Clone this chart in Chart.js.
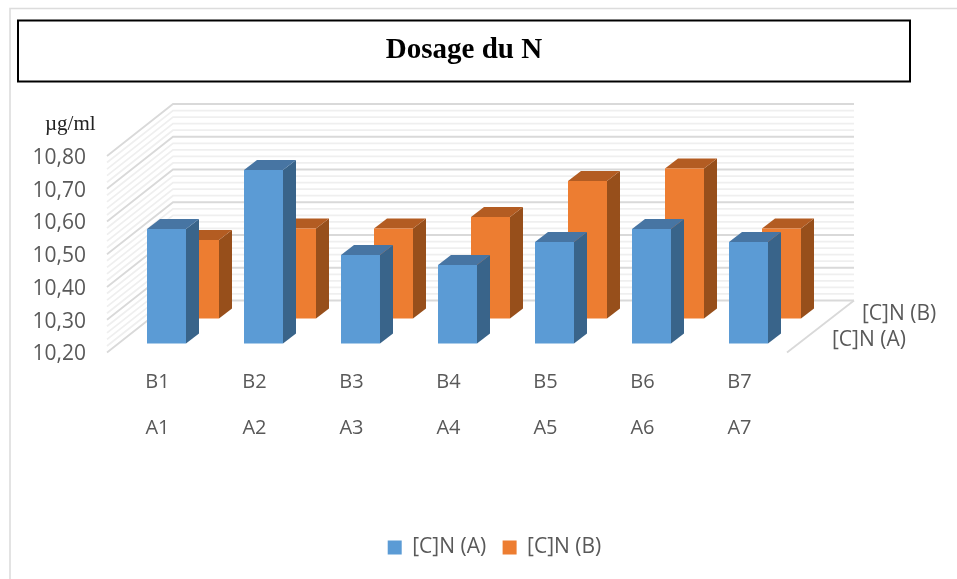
<!DOCTYPE html>
<html><head><meta charset="utf-8">
<style>html,body{margin:0;padding:0;background:#fff}canvas{display:block}</style>
<script src="https://cdn.jsdelivr.net/npm/chart.js@4"></script>
</head><body><canvas id="c" width="957" height="579"></canvas>
<script>
const chartTitle = 'Dosage du N';
const unitLabel = 'µg/ml';
const categoriesA = ['A1','A2','A3','A4','A5','A6','A7'];
const categoriesB = ['B1','B2','B3','B4','B5','B6','B7'];
const seriesAName = '[C]N (A)';
const seriesBName = '[C]N (B)';
const seriesA = [10.55,10.73,10.47,10.44,10.51,10.55,10.51];
const seriesB = [10.44,10.475,10.475,10.51,10.62,10.658,10.475];
const yMin = 10.2, yMax = 10.8, yStep = 0.1, minorStep = 0.02;

const GREY = '#595959';
const SANS = '"Open Sans", sans-serif';
const SERIF = '"Liberation Serif", serif';
const depthOffset = [{dx:0,dy:0},{dx:33,dy:-25}];
const barDepth = {dx:13,dy:-10};
const faces = [{top:'#4775a3',side:'#39648a'},{top:'#b35c22',side:'#974f1b'}];

const scene3d = {
  id:'scene3d',
  afterLayout(chart){
    chart.titleBlock.left = 18; chart.titleBlock.right = 910;
    const lg = chart.legend;
    lg.left += 96; lg.right += 96;
    lg.legendHitBoxes.forEach(b=>{b.left+=96;});
  },
  beforeDatasetsDraw(chart){
    const {ctx,chartArea:a,scales:{y}} = chart;
    const fl=a.left-11, fr=a.right-10, bl=a.left+55, br=a.right+57;
    const n=Math.round((yMax-yMin)/minorStep);
    ctx.save();
    for(let pass=0;pass<2;pass++){
      for(let i=0;i<=n;i++){
        const major=i%5===0;
        if(major!==(pass===1)) continue;
        const p=y.getPixelForValue(yMin+i*minorStep);
        ctx.strokeStyle=major?'#d9d9d9':'#efefef';
        ctx.lineWidth=1.8;
        ctx.beginPath();
        ctx.moveTo(fl,p+9); ctx.lineTo(bl,p-43); ctx.lineTo(br,p-43);
        ctx.stroke();
      }
    }
    const p0=y.getPixelForValue(yMin);
    ctx.strokeStyle='#d9d9d9'; ctx.lineWidth=1.8;
    ctx.beginPath(); ctx.moveTo(br,p0-43); ctx.lineTo(fr,p0+9); ctx.stroke();
    ctx.restore();
  },
  beforeDatasetDraw(chart,args){
    const {ctx}=chart, i=args.index, off=depthOffset[i], f=faces[i];
    ctx.save();
    ctx.translate(off.dx,off.dy);
    args.meta.data.forEach(el=>{
      const {x,y,base,width}=el.getProps(['x','y','base','width'],true);
      const l=x-width/2, r=x+width/2, d=barDepth;
      ctx.fillStyle=f.side;
      ctx.beginPath();
      ctx.moveTo(r,y); ctx.lineTo(r+d.dx,y+d.dy); ctx.lineTo(r+d.dx,base+d.dy); ctx.lineTo(r,base);
      ctx.closePath(); ctx.fill();
      ctx.fillStyle=f.top;
      ctx.beginPath();
      ctx.moveTo(l,y); ctx.lineTo(l+d.dx,y+d.dy); ctx.lineTo(r+d.dx,y+d.dy); ctx.lineTo(r,y);
      ctx.closePath(); ctx.fill();
    });
  },
  afterDatasetDraw(chart){ chart.ctx.restore(); },
  afterDraw(chart){
    const {ctx}=chart;
    ctx.save();
    ctx.strokeStyle='#dcdcdc'; ctx.lineWidth=1.6;
    ctx.beginPath(); ctx.moveTo(10,579); ctx.lineTo(10,8.5); ctx.lineTo(957,8.5); ctx.stroke();
    ctx.strokeStyle='#000'; ctx.lineWidth=2;
    ctx.strokeRect(18,20.5,892,61);
    ctx.textBaseline='middle'; ctx.textAlign='left';
    ctx.fillStyle='#222'; ctx.font='21px '+SERIF;
    ctx.fillText(unitLabel,45,124);
    ctx.fillStyle=GREY; ctx.font='21px '+SANS;
    ctx.fillText(seriesBName,862,314.5);
    ctx.fillText(seriesAName,832,340);
    ctx.restore();
  }
};

new Chart(document.getElementById('c'),{
  type:'bar',
  data:{
    labels:categoriesB.map((b,i)=>[b,categoriesA[i]]),
    datasets:[
      {label:seriesAName,data:seriesA,backgroundColor:'#5b9bd5',clip:false,base:yMin},
      {label:seriesBName,data:seriesB,backgroundColor:'#ed7d31',clip:false,base:yMin}
    ]
  },
  options:{
    responsive:false,animation:false,
    layout:{padding:{left:0,right:160,top:0,bottom:11}},
    datasets:{bar:{grouped:false,categoryPercentage:1,barPercentage:0.402}},
    scales:{
      x:{
        grid:{display:false},border:{display:false},
        afterFit(s){s.height=177;},
        ticks:{autoSkip:false,maxRotation:0,minRotation:0,padding:8,labelOffset:-9,color:GREY,
               font:{family:SANS,size:20,lineHeight:'46px'}}
      },
      y:{
        min:yMin,max:yMax,
        grid:{display:false,drawTicks:false},border:{display:false},
        afterFit(s){s.width=118;},
        ticks:{stepSize:yStep,padding:32,labelOffset:11,color:GREY,
               font:{family:SANS,size:21},
               callback:v=>Number(v).toFixed(2).replace('.',',')}
      }
    },
    plugins:{
      title:{display:true,text:chartTitle,color:'#000',
             font:{family:SERIF,size:29,weight:'bold',lineHeight:1.2},
             padding:{top:33,bottom:79.2}},
      legend:{position:'bottom',
              labels:{boxWidth:14,boxHeight:14,padding:16.5,color:GREY,font:{family:SANS,size:21}}},
      tooltip:{enabled:false}
    }
  },
  plugins:[scene3d]
});
</script></body></html>
